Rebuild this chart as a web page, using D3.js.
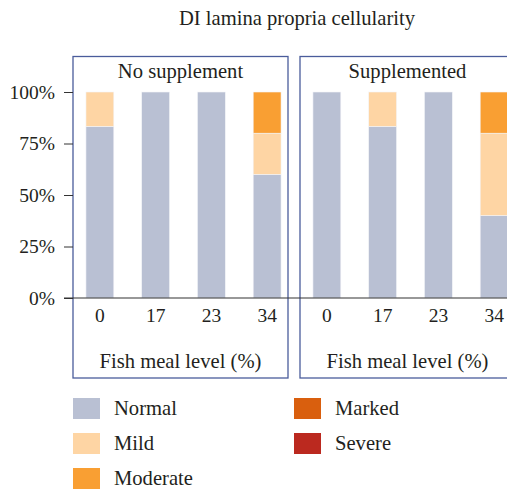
<!DOCTYPE html>
<html>
<head>
<meta charset="utf-8">
<script src="https://cdn.jsdelivr.net/npm/d3@7"></script>
<style>
  body { margin: 0; background: #fff; }
  svg text { font-family: "Liberation Serif", "DejaVu Serif", serif; fill: #231f20; }
</style>
</head>
<body>
<svg id="chart" width="507" height="489"></svg>
<script>
const title = 'DI lamina propria cellularity';
const levels = ['0', '17', '23', '34'];
const grades = ['Normal', 'Mild', 'Moderate', 'Marked', 'Severe'];
const gradeColors = ['#b9c0d3', '#fed5a4', '#f99f33', '#d95f0e', '#bb291f'];
const yTicks = [0, 0.25, 0.5, 0.75, 1];

// percent of fish per grade, one row per fish meal level
const noSupplement = [
    [83.3, 16.7, 0, 0, 0],
    [100, 0, 0, 0, 0],
    [100, 0, 0, 0, 0],
    [60, 20, 20, 0, 0],
];
const supplemented = [
    [100, 0, 0, 0, 0],
    [83.3, 16.7, 0, 0, 0],
    [100, 0, 0, 0, 0],
    [40, 40, 20, 0, 0],
];

const panels = [
    { name: 'No supplement', rows: noSupplement, x0: 73 },
    { name: 'Supplemented', rows: supplemented, x0: 300 },
];

const svg = d3.select('#chart');
const boxW = 215;
const boxTop = 56.5;
const boxBottom = 378;
const fs = 19.5;   // numbers
const fw = 20.6;   // words

const y = d3.scaleLinear().domain([0, 1]).range([298, 92]);
const color = d3.scaleOrdinal().domain(grades).range(gradeColors);

svg.append('text')
    .attr('x', 297)
    .attr('y', 25)
    .attr('text-anchor', 'middle')
    .style('font-size', `${fw}px`)
    .text(title);

const stack = d3.stack().keys(grades);

panels.forEach((p) => {
    const g = svg.append('g');
    g.append('rect')
        .attr('x', p.x0)
        .attr('y', boxTop)
        .attr('width', boxW)
        .attr('height', boxBottom - boxTop)
        .attr('fill', 'none')
        .attr('stroke', '#4a5c9b')
        .attr('stroke-width', 1.3);

    g.append('text')
        .attr('x', p.x0 + boxW / 2)
        .attr('y', 78)
        .attr('text-anchor', 'middle')
        .style('font-size', `${fw}px`)
        .text(p.name);

    const x = d3.scaleBand()
        .domain(levels)
        .range([p.x0 - 1, p.x0 + 222])
        .paddingInner(0.5)
        .paddingOuter(0.25);

    const table = p.rows.map((r, i) => {
        const o = { level: levels[i] };
        grades.forEach((k, j) => { o[k] = r[j] / 100; });
        return o;
    });

    g.selectAll('g.layer')
        .data(stack(table))
        .join('g')
        .attr('class', 'layer')
        .attr('fill', d => color(d.key))
        .selectAll('rect')
        .data(d => d.filter(s => s[1] > s[0]))
        .join('rect')
        .attr('x', d => x(d.data.level))
        .attr('width', x.bandwidth())
        .attr('y', d => y(d[1]))
        .attr('height', d => y(d[0]) - y(d[1]))
        .attr('stroke', '#f4f5f8')
        .attr('stroke-width', 0.6);

    g.selectAll('text.lvl')
        .data(levels)
        .join('text')
        .attr('class', 'lvl')
        .attr('x', d => x(d) + x.bandwidth() / 2)
        .attr('y', 322)
        .attr('text-anchor', 'middle')
        .style('font-size', `${fs}px`)
        .text(d => d);

    g.append('text')
        .attr('x', p.x0 + boxW / 2)
        .attr('y', 368)
        .attr('text-anchor', 'middle')
        .style('font-size', `${fw}px`)
        .text('Fish meal level (%)');
});

// y axis on the left panel
const yAxis = d3.axisLeft(y)
    .tickValues(yTicks)
    .tickFormat(d3.format('.0%'))
    .tickSize(9)
    .tickPadding(9);

const ya = svg.append('g')
    .attr('transform', 'translate(73,0)')
    .call(yAxis);
ya.select('.domain').remove();
ya.selectAll('line').attr('stroke', '#333');
ya.selectAll('text')
    .attr('font-family', null)
    .attr('font-size', null)
    .style('font-size', `${fs}px`)
    .attr('fill', '#231f20');

// baseline across both panels
svg.append('line')
    .attr('x1', 64)
    .attr('x2', 507)
    .attr('y1', y(0))
    .attr('y2', y(0))
    .attr('stroke', '#333')
    .attr('stroke-width', 1.2);

// legend
const legendPos = [
    [73, 398], [73, 433], [73, 468],
    [294, 398], [294, 433],
];
const lg = svg.append('g')
    .selectAll('g')
    .data(grades)
    .join('g')
    .attr('transform', (d, i) => `translate(${legendPos[i][0]},${legendPos[i][1]})`);
lg.append('rect')
    .attr('width', 27)
    .attr('height', 21)
    .attr('fill', d => color(d));
lg.append('text')
    .attr('x', 41)
    .attr('y', 17)
    .style('font-size', `${fw}px`)
    .text(d => d);
</script>
</body>
</html>
